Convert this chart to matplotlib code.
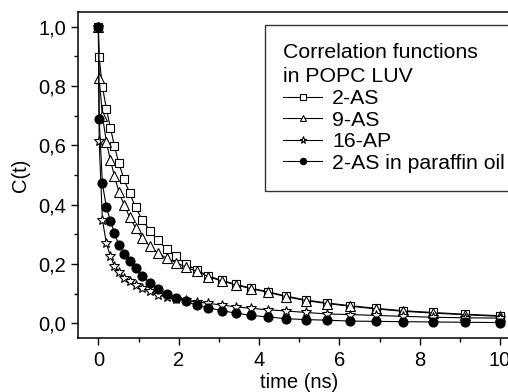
import matplotlib
matplotlib.use("Agg")
import matplotlib.pyplot as plt
from matplotlib.ticker import MultipleLocator, FuncFormatter
from matplotlib.lines import Line2D

plt.rcParams['font.family'] = ['Liberation Sans', 'DejaVu Sans']

time_ns = [0, 0.02, 0.10, 0.20, 0.30, 0.40, 0.51, 0.64, 0.78, 0.93, 1.09, 1.28, 1.48,
           1.70, 1.93, 2.18, 2.45, 2.73, 3.07, 3.42, 3.80, 4.22, 4.68, 5.17, 5.69,
           6.27, 6.91, 7.58, 8.33, 9.13, 10.0]
c_2as = [1.0, 0.896, 0.798, 0.723, 0.659, 0.598, 0.539, 0.486, 0.438, 0.391, 0.349,
         0.313, 0.281, 0.250, 0.226, 0.200, 0.180, 0.161, 0.145, 0.132, 0.119, 0.107,
         0.092, 0.079, 0.069, 0.060, 0.051, 0.043, 0.037, 0.031, 0.026]
c_9as = [1.0, 0.827, 0.700, 0.611, 0.550, 0.497, 0.444, 0.399, 0.358, 0.321, 0.287,
         0.261, 0.237, 0.220, 0.205, 0.190, 0.176, 0.158, 0.143, 0.130, 0.117, 0.105,
         0.090, 0.077, 0.067, 0.058, 0.049, 0.041, 0.035, 0.029, 0.024]
c_16ap = [1.0, 0.614, 0.349, 0.270, 0.226, 0.194, 0.172, 0.153, 0.142, 0.131, 0.120,
          0.108, 0.097, 0.088, 0.083, 0.078, 0.073, 0.068, 0.062, 0.056, 0.051, 0.046,
          0.042, 0.037, 0.032, 0.030, 0.027, 0.024, 0.021, 0.019, 0.018]
c_paraffin = [1.0, 0.690, 0.472, 0.391, 0.346, 0.304, 0.265, 0.235, 0.209, 0.187, 0.161,
              0.136, 0.116, 0.099, 0.086, 0.075, 0.061, 0.053, 0.043, 0.035, 0.027, 0.022,
              0.016, 0.013, 0.011, 0.008, 0.007, 0.006, 0.005, 0.004, 0.003]

labels = ["2-AS", "9-AS", "16-AP", "2-AS in paraffin oil"]
legend_title = "Correlation functions\nin POPC LUV"

fig = plt.figure(figsize=(5.08, 3.92), dpi=100)
ax = fig.add_axes([0.1541, 0.137, 0.8697, 0.833])

styles = [
    dict(marker='s', ms=5.5, mfc='white'),
    dict(marker='^', ms=6.5, mfc='white'),
    dict(marker='*', ms=7.5, mfc='white'),
    dict(marker='o', ms=6.5, mfc='black'),
]
series = [c_2as, c_9as, c_16ap, c_paraffin]
handles = []
for ys, st, lab in zip(series, styles, labels):
    ax.plot(time_ns, ys, color='black', lw=0.8, mec='black', mew=0.8, **st)
    handles.append(Line2D([], [], color='black', lw=0.8, mec='black', mew=0.8,
                          marker=st['marker'], ms=st['ms'] * 0.7, mfc=st['mfc']))

ax.set_xlim(-0.5, 10.5)
ax.set_ylim(-0.05, 1.05)
ax.xaxis.set_major_locator(MultipleLocator(2))
ax.xaxis.set_minor_locator(MultipleLocator(1))
ax.yaxis.set_major_locator(MultipleLocator(0.2))
ax.yaxis.set_minor_locator(MultipleLocator(0.1))
ax.yaxis.set_major_formatter(FuncFormatter(lambda v, p: f"{v:.1f}".replace('.', ',')))
ax.tick_params(which='major', direction='out', length=5, width=1, labelsize=14.5)
ax.tick_params(axis='x', which='major', pad=4.5)
ax.tick_params(which='minor', direction='out', length=3, width=1)
ax.tick_params(top=False, right=False, which='both')
for s in ax.spines.values():
    s.set_linewidth(1.1)

ax.set_xlabel("time (ns)", fontsize=14.5, labelpad=2)
ax.set_ylabel("C(t)", fontsize=14.5, labelpad=6)

leg = ax.legend(handles, labels, title=legend_title, loc='upper left',
                bbox_to_anchor=(0.4228, 0.959), borderaxespad=0, fontsize=15.3,
                title_fontsize=15.3, labelspacing=0.12, handlelength=1.85,
                handletextpad=0.45, borderpad=0.85, fancybox=False, alignment='left',
                frameon=True, edgecolor='black')
leg.get_title().set_linespacing(1.35)
leg.get_frame().set_linewidth(1.0)

fig.savefig("out.png", dpi=100)
